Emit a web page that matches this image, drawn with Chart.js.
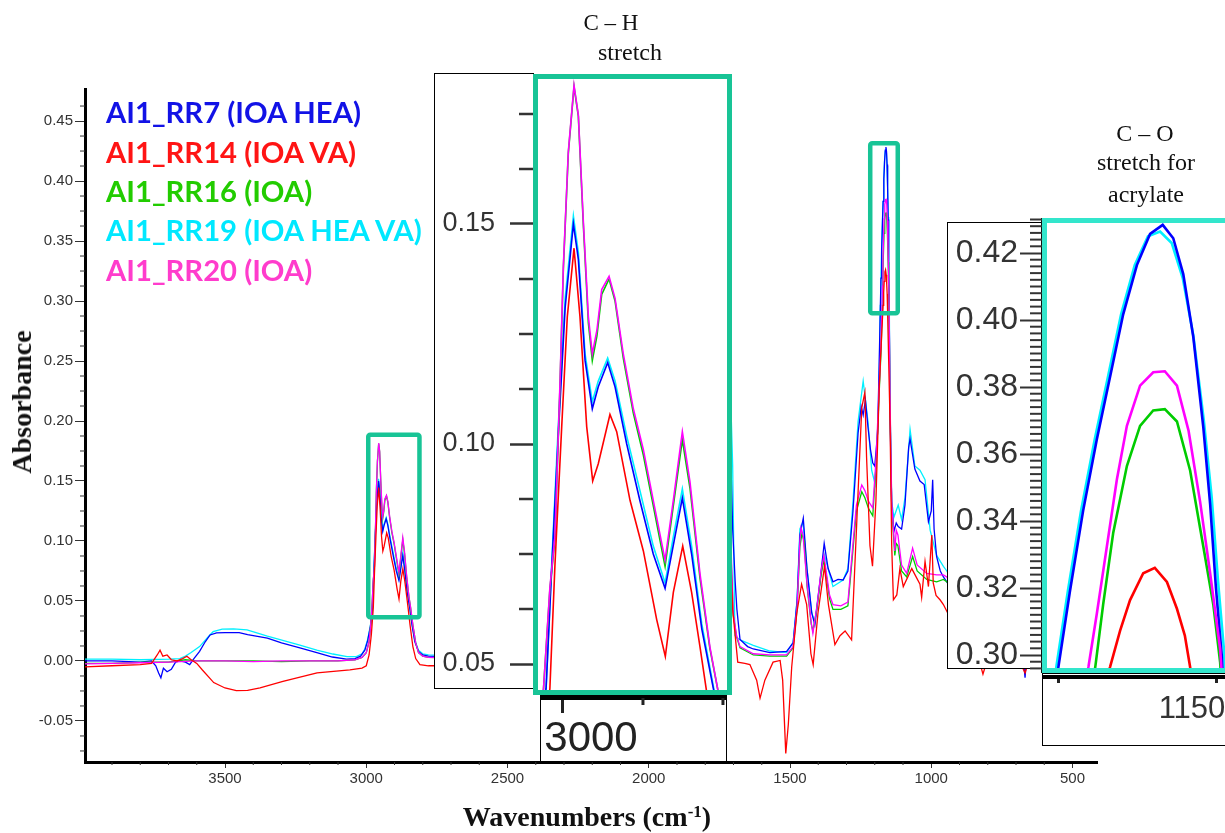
<!DOCTYPE html>
<html><head><meta charset="utf-8">
<script src="https://cdn.jsdelivr.net/npm/chart.js@4.4.1/dist/chart.umd.min.js"></script>
<style>
html,body{margin:0;padding:0;background:#fff;}
body{width:1225px;height:833px;position:relative;overflow:hidden;}
.abs{position:absolute;box-sizing:border-box;}
canvas{position:absolute;}
.leg{position:absolute;white-space:nowrap;font-family:Lato,"Open Sans",sans-serif;font-weight:700;line-height:1;transform:translateY(-50%);}
.note{position:absolute;font-family:"Liberation Serif","Times New Roman",serif;white-space:nowrap;line-height:1;transform:translate(-50%,-50%);color:#111;}
</style></head><body>
<canvas id="mainChart" width="1225" height="833" style="left:0;top:0"></canvas>
<div id="legend"></div>
<div class="note" id="ytitle" style="left:22px;top:402px;font-weight:700;font-size:28px;transform:translate(-50%,-50%) rotate(-90deg);">Absorbance</div>
<div class="note" id="xtitle" style="left:587px;top:817px;font-weight:700;font-size:28px;">Wavenumbers (cm<sup style="font-size:17px;vertical-align:9px;line-height:0">-1</sup>)</div>

<div class="note" style="left:611px;top:22px;font-size:23px;">C – H</div>
<div class="note" style="left:630px;top:52px;font-size:24px;">stretch</div>
<div class="note" style="left:1145px;top:133px;font-size:24px;">C – O</div>
<div class="note" style="left:1146px;top:162px;font-size:24px;">stretch for</div>
<div class="note" style="left:1146px;top:194px;font-size:24px;">acrylate</div>

<!-- C-H inset -->
<div class="abs" style="left:434px;top:73px;width:100px;height:616px;border:1px solid #000;background:#fff"></div>
<div class="abs" style="left:533px;top:74px;width:199px;height:621px;background:#fff"></div>
<canvas id="chInset" width="298" height="622" style="left:434px;top:73px"></canvas>
<div class="abs" style="left:533px;top:74px;width:199px;height:621px;border:5px solid #18c496"></div>
<div class="abs" style="left:540px;top:695px;width:187px;height:67px;border:1px solid #000;background:#fff"></div>
<canvas id="chAxis" width="185" height="66" style="left:541px;top:695px"></canvas>

<!-- C-O inset -->
<div class="abs" style="left:947px;top:222px;width:96px;height:447px;border:1px solid #000;background:#fff"></div>
<div class="abs" style="left:1042px;top:218px;width:190px;height:455px;background:#fff"></div>
<canvas id="coInset" width="278" height="455" style="left:947px;top:218px"></canvas>
<div class="abs" style="left:1042px;top:218px;width:190px;height:455px;border:5px solid #33e6cc"></div>
<div class="abs" style="left:1042px;top:673px;width:190px;height:73px;border:1px solid #000;background:#fff"></div>
<canvas id="coAxis" width="183" height="73" style="left:1042px;top:673px"></canvas>

<script>
// ---------------- data (wavenumber cm-1, absorbance) ----------------
const rr7 = [[3996,0.000],[3900,0.000],[3800,-0.001],[3760,0.000],[3745,-0.004],[3735,-0.010],[3727,-0.014],[3718,-0.006],[3705,-0.009],[3690,-0.007],[3675,-0.001],[3660,0.000],[3640,-0.001],[3625,-0.003],[3610,0.002],[3590,0.008],[3570,0.016],[3553,0.0217],[3530,0.0235],[3500,0.0236],[3450,0.0236],[3420,0.022],[3350,0.019],[3300,0.015],[3235,0.011],[3175,0.007],[3120,0.0033],[3070,0.0015],[3040,0.002],[3020,0.004],[3005,0.009],[2995,0.017],[2985,0.029],
[2978,0.0445],[2973.6,0.0715],[2968.4,0.102],[2963,0.131],[2956.5,0.150],[2952.6,0.142],[2947.3,0.119],[2941.6,0.108],[2936.9,0.113],[2929.5,0.1185],[2923.7,0.113],[2914.5,0.100],[2904,0.087],[2893.6,0.075],[2884.3,0.0672],[2877.8,0.077],[2870.7,0.0877],[2863.4,0.075],[2855.4,0.058],[2846,0.044],[2838,0.030],[2828,0.016],[2815,0.008],[2800,0.005],[2780,0.004],
[2600,0.003],[2400,0.003],[2200,0.003],[2000,0.004],[1850,0.006],[1780,0.014],[1760,0.05],[1745,0.20],[1730,0.33],[1715,0.22],
[1703,0.110],[1694,0.066],[1688,0.043],[1677,0.018],[1650,0.012],[1630,0.010],[1571,0.007],[1512,0.008],[1489,0.015],[1475,0.050],[1465,0.105],[1453,0.119],[1440,0.077],[1423,0.040],[1412,0.030],[1394,0.066],[1379,0.098],[1365,0.077],[1348,0.066],[1330,0.068],[1312,0.0675],[1295,0.075],[1277,0.125],[1259,0.190],[1248,0.212],[1241,0.205],[1233,0.2175],[1224,0.195],[1215,0.176],[1207,0.165],[1200,0.1625],[1190,0.19],[1185,0.24],
[1180.1,0.2964],[1177.9,0.3191],[1175.4,0.3431],[1172.8,0.3644],[1170.3,0.3830],[1167.8,0.4017],[1165.2,0.4164],[1162.7,0.4257],[1160.3,0.4284],[1158.3,0.4244],[1156.4,0.4137],[1154.5,0.3950],[1152.6,0.368],[1151.3,0.345],[1150.2,0.320],[1149.1,0.300],
[1146,0.207],[1140,0.130],[1132,0.108],[1124,0.115],[1117,0.112],[1105,0.110],[1093,0.130],[1080,0.178],[1075,0.185],[1058,0.160],[1040,0.150],[1025,0.147],[1010,0.116],[1000,0.125],[995,0.151],[990,0.110],[981,0.087],[968,0.075],[957,0.070],[945,0.066],[900,0.050],[850,0.035],[800,0.022],[750,0.012],[700,0.006],[680,0.004],[672,-0.004],[668,-0.014],[664,-0.002],[640,0.003],[560,0.002],[413,0.001]];

const rr14 = [[3996,-0.005],[3900,-0.004],[3800,-0.003],[3760,-0.002],[3740,0.005],[3730,0.009],[3720,0.004],[3705,0.005],[3690,0.001],[3670,0.000],[3650,0.002],[3635,0.004],[3620,0.001],[3600,-0.002],[3580,-0.0075],[3540,-0.018],[3500,-0.0225],[3460,-0.0247],[3420,-0.0245],[3376,-0.0225],[3295,-0.017],[3174,-0.010],[3058,-0.0075],[3015,-0.006],[3000,-0.004],[2990,0.005],[2982,0.022],
[2975,0.0445],[2971,0.0726],[2965.7,0.1039],[2961.3,0.1289],[2956,0.1445],[2951.3,0.1289],[2946,0.1039],[2941.3,0.0916],[2936.9,0.0955],[2927.7,0.1067],[2922.4,0.1028],[2911.9,0.0872],[2901.4,0.0757],[2890.9,0.0601],[2884.1,0.0517],[2877.8,0.0663],[2870.4,0.0768],[2863.4,0.0663],[2856.8,0.0539],[2852,0.0445],[2845,0.030],[2835,0.012],[2825,0.002],[2810,-0.003],[2780,-0.004],
[2600,-0.004],[2400,-0.005],[2200,-0.005],[2000,-0.004],[1850,-0.003],[1780,0.005],[1760,0.03],[1745,0.12],[1730,0.22],[1715,0.12],
[1703,0.043],[1685,-0.001],[1660,-0.002],[1642,-0.003],[1618,-0.016],[1606,-0.031],[1589,-0.016],[1560,-0.001],[1535,0.0004],[1526,-0.016],[1515,-0.077],[1506,-0.053],[1494,-0.005],[1476,0.040],[1459,0.064],[1441,0.047],[1426,0.006],[1418,-0.003],[1401,0.040],[1378,0.0788],[1364,0.047],[1341,0.0137],[1323,0.021],[1305,0.025],[1282,0.0175],[1264,0.114],[1246,0.211],[1235,0.224],[1229,0.170],[1217,0.096],[1208,0.079],[1196,0.133],[1184,0.229],[1175,0.275],
[1170.3,0.2964],[1168.4,0.3072],[1166.5,0.3164],[1164.0,0.3244],[1161.8,0.3260],[1159.5,0.3218],[1157.6,0.3138],[1156.1,0.3058],[1155.1,0.2964],
[1146,0.200],[1140,0.096],[1134,0.051],[1122,0.055],[1111,0.077],[1099,0.062],[1069,0.077],[1040,0.064],[1034,0.053],[1022,0.083],[1010,0.062],[998,0.105],[993,0.065],[983,0.0546],[969,0.051],[957,0.047],[944,0.041],[900,0.020],[850,0.004],[825,-0.004],[817,-0.011],[808,-0.004],[750,-0.004],[680,-0.004],[668,-0.010],[660,-0.004],[560,-0.005],[413,-0.005]];

const rr16 = [[3996,-0.002],[3900,-0.002],[3780,-0.001],[3700,-0.001],[3640,0.001],[3600,0.000],[3500,0.000],[3400,0.000],[3300,-0.0005],[3200,0.000],[3100,0.000],[3040,0.001],[3015,0.003],[3000,0.007],[2990,0.016],[2985,0.028],
[2980,0.0445],[2975,0.0670],[2971,0.0785],[2967,0.1135],[2964.4,0.1398],[2960.5,0.1660],[2956,0.1812],[2952.6,0.1745],[2948.7,0.1500],[2944.7,0.1275],[2941.6,0.1190],[2938,0.1245],[2934.2,0.1340],[2928.4,0.1375],[2923.7,0.1325],[2917.2,0.1195],[2909.3,0.1070],[2901.4,0.0975],[2893.6,0.0860],[2884.3,0.0722],[2877.8,0.0860],[2870.7,0.1010],[2864.7,0.0900],[2856.8,0.0695],[2849,0.0535],[2843,0.0445],[2835,0.030],[2825,0.015],[2815,0.007],[2800,0.004],[2780,0.003],
[2600,0.002],[2400,0.001],[2200,0.001],[2000,0.002],[1850,0.004],[1780,0.011],[1760,0.035],[1745,0.14],[1730,0.25],[1715,0.13],
[1701,0.038],[1689,0.020],[1677,0.011],[1630,0.005],[1571,0.004],[1512,0.004],[1489,0.011],[1475,0.043],[1465,0.095],[1458,0.106],[1450,0.100],[1440,0.063],[1425,0.031],[1419,0.025],[1405,0.043],[1390,0.072],[1380,0.084],[1372,0.072],[1360,0.052],[1348,0.043],[1320,0.043],[1295,0.046],[1280,0.085],[1265,0.125],[1246,0.141],[1235,0.136],[1222,0.127],[1207,0.121],[1195,0.165],[1185,0.220],[1177,0.262],
[1173.1,0.2964],[1171.6,0.3151],[1169.7,0.3364],[1167.1,0.3564],[1164.6,0.3684],[1162.1,0.3730],[1159.9,0.3734],[1157.6,0.3697],[1155.1,0.3551],[1152.6,0.3324],[1150.7,0.3151],[1149.4,0.2978],
[1146,0.215],[1140,0.128],[1129,0.088],[1124,0.098],[1118,0.096],[1105,0.075],[1087,0.070],[1066,0.087],[1050,0.075],[1016,0.068],[981,0.066],[957,0.068],[945,0.066],[900,0.048],[850,0.033],[800,0.021],[750,0.011],[700,0.005],[668,0.001],[640,0.002],[560,0.001],[413,0.000]];

const rr19 = [[3996,0.0015],[3900,0.0015],[3800,0.001],[3700,0.0015],[3660,0.002],[3640,0.004],[3620,0.007],[3590,0.012],[3560,0.020],[3542,0.0244],[3510,0.0265],[3470,0.0267],[3422,0.026],[3350,0.0208],[3235,0.0133],[3175,0.009],[3118,0.0058],[3068,0.0036],[3035,0.0036],[3015,0.006],[3005,0.010],[2995,0.018],[2985,0.030],
[2978,0.0445],[2973.6,0.0726],[2968.4,0.104],[2963,0.133],[2956.5,0.1518],[2952.6,0.1435],[2947.3,0.1205],[2941.6,0.1096],[2936.9,0.1143],[2929.5,0.1195],[2923.7,0.1143],[2914.5,0.1018],[2904,0.0893],[2893.6,0.0768],[2884.3,0.0684],[2877.8,0.0789],[2870.7,0.0898],[2863.4,0.0768],[2855.4,0.0591],[2846,0.0445],[2838,0.031],[2828,0.017],[2815,0.009],[2800,0.006],[2780,0.005],
[2600,0.004],[2400,0.004],[2200,0.004],[2000,0.005],[1850,0.008],[1780,0.02],[1760,0.06],[1745,0.22],[1730,0.36],[1715,0.26],
[1703,0.163],[1695,0.021],[1677,0.0175],[1630,0.013],[1571,0.0083],[1512,0.007],[1489,0.0155],[1475,0.051],[1465,0.110],[1454,0.116],[1440,0.077],[1423,0.040],[1412,0.0325],[1394,0.066],[1380,0.090],[1365,0.077],[1348,0.062],[1312,0.0675],[1295,0.077],[1277,0.1327],[1259,0.1997],[1241,0.2333],[1224,0.1997],[1211,0.159],[1199,0.1475],[1187,0.207],[1183,0.255],
[1180.5,0.2964],[1178.3,0.3191],[1175.8,0.3431],[1173.2,0.3644],[1170.7,0.383],[1168.2,0.4017],[1165.6,0.4164],[1163.1,0.4250],[1160.8,0.4264],[1158.6,0.4230],[1156.5,0.4125],[1154.5,0.3955],[1152.5,0.370],[1151.0,0.347],[1149.8,0.322],[1148.7,0.302],
[1146,0.215],[1140,0.1327],[1132,0.120],[1117,0.130],[1105,0.118],[1093,0.136],[1075,0.193],[1058,0.1625],[1040,0.159],[1022,0.151],[1004,0.109],[981,0.088],[957,0.0788],[945,0.075],[900,0.055],[850,0.040],[800,0.025],[750,0.015],[700,0.009],[672,0.002],[668,-0.006],[664,0.003],[640,0.005],[560,0.003],[413,0.002]];

const rr20 = [[3996,-0.0025],[3900,-0.002],[3800,-0.0015],[3700,-0.001],[3600,0.000],[3500,0.000],[3400,-0.0005],[3300,0.000],[3200,0.000],[3100,0.000],[3040,0.001],[3015,0.003],[3000,0.007],[2990,0.016],[2985,0.028],
[2980,0.0445],[2975,0.0674],[2971,0.0791],[2967,0.1143],[2964.4,0.1404],[2960.5,0.1664],[2956,0.1815],[2952.6,0.1748],[2948.7,0.1508],[2944.7,0.1289],[2941.6,0.1205],[2938,0.1258],[2934.2,0.1351],[2928.4,0.1381],[2923.7,0.1331],[2917.2,0.1205],[2909.3,0.108],[2901.4,0.0987],[2893.6,0.0872],[2884.3,0.0736],[2877.8,0.0872],[2870.7,0.1028],[2864.7,0.0914],[2856.8,0.0705],[2849,0.0539],[2843,0.0445],[2835,0.030],[2825,0.015],[2815,0.007],[2800,0.004],[2780,0.003],
[2600,0.002],[2400,0.001],[2200,0.001],[2000,0.002],[1850,0.004],[1780,0.012],[1760,0.04],[1745,0.15],[1730,0.27],[1715,0.14],
[1701,0.040],[1689,0.021],[1677,0.012],[1630,0.006],[1571,0.005],[1512,0.005],[1489,0.012],[1475,0.045],[1465,0.100],[1461,0.111],[1454,0.105],[1440,0.065],[1425,0.032],[1419,0.023],[1405,0.045],[1390,0.075],[1380,0.088],[1372,0.075],[1360,0.055],[1348,0.047],[1320,0.046],[1295,0.049],[1280,0.090],[1265,0.130],[1246,0.1467],[1235,0.142],[1222,0.133],[1207,0.1275],[1195,0.170],[1185,0.225],[1178,0.265],
[1174.4,0.2964],[1172.8,0.3124],[1170.9,0.3324],[1169.0,0.3524],[1167.1,0.3684],[1164.6,0.3804],[1162.1,0.3844],[1159.9,0.3847],[1157.6,0.3804],[1155.4,0.3670],[1153.2,0.3457],[1151.3,0.3244],[1149.4,0.3018],
[1146,0.22],[1140,0.133],[1129,0.0917],[1124,0.109],[1118,0.105],[1105,0.080],[1087,0.073],[1066,0.094],[1050,0.080],[1016,0.073],[981,0.0717],[957,0.0717],[945,0.070],[900,0.050],[850,0.035],[800,0.022],[750,0.012],[700,0.006],[668,0.002],[640,0.003],[560,0.002],[413,0.001]];

const seriesNames = ['AI1_RR7 (IOA HEA)', 'AI1_RR14 (IOA VA)', 'AI1_RR16 (IOA)', 'AI1_RR19 (IOA HEA VA)', 'AI1_RR20 (IOA)'];
const seriesData = [rr7, rr14, rr16, rr19, rr20];

// tick labels
const mainXTicks = [3500, 3000, 2500, 2000, 1500, 1000, 500];
const mainYTicks = [-0.05, 0.00, 0.05, 0.10, 0.15, 0.20, 0.25, 0.30, 0.35, 0.40, 0.45];
const chYTicks = [0.05, 0.10, 0.15];
const coYTicks = [0.30, 0.32, 0.34, 0.36, 0.38, 0.40, 0.42];
const chXTicks = [3000];
const coXTicks = [1180, 1150];
const coXLabels = ['', '1150'];

// ---------------- styles ----------------
const lineColors = ['#0000ff', '#ff0000', '#00cc00', '#00f0ff', '#ff00ff'];
const legendColors = ['#1212e6', '#ff1414', '#22cc00', '#00e8ff', '#ff3ccc'];
const drawOrder = [1, 4, 2, 0, 3];  // first = top-most
const boxGreen = '#18c496';
const chRegion = { x0: 3000.9, x1: 2803.7, y0: 0.1904, y1: 0.0346 };
const coRegion = { x0: 1224, x1: 1110.6, y0: 0.4333, y1: 0.2879 };

Chart.defaults.font.family = '"Liberation Sans", Arial, sans-serif';
Chart.defaults.color = '#333';

const toXY = a => a.map(p => ({ x: p[0], y: p[1] }));
function makeDatasets(bw) {
  return drawOrder.map(i => ({
    label: seriesNames[i], data: toXY(seriesData[i]), borderColor: lineColors[i],
    borderWidth: bw, pointRadius: 0, fill: false, tension: 0, spanGaps: true
  }));
}
function range(a, b, step, skip) {
  const out = [];
  const n = Math.round((b - a) / step);
  for (let i = 0; i <= n; i++) {
    const v = +(a + i * step).toFixed(6);
    if (!skip || !skip(v)) out.push(v);
  }
  return out;
}
const isMult = (v, m) => Math.abs(v / m - Math.round(v / m)) < 1e-6;

function minorPlugin(list) {
  return {
    id: 'minorTicks',
    afterDraw(chart) {
      const ctx = chart.ctx;
      list.forEach(m => {
        const s = chart.scales[m.axis];
        ctx.save(); ctx.strokeStyle = m.color; ctx.lineWidth = m.width;
        m.values.forEach(v => {
          let p = s.getPixelForValue(v);
          ctx.beginPath();
          if (s.isHorizontal()) { ctx.moveTo(p, s.top); ctx.lineTo(p, s.top + m.len); }
          else { ctx.moveTo(s.right - m.len, p); ctx.lineTo(s.right, p); }
          ctx.stroke();
        });
        ctx.restore();
      });
    }
  };
}
const regionPlugin = {
  id: 'regions',
  afterDatasetsDraw(chart) {
    const { ctx, scales: { x, y } } = chart;
    const lw = 4.5;
    [chRegion, coRegion].forEach(r => {
      const px0 = x.getPixelForValue(r.x0), px1 = x.getPixelForValue(r.x1);
      const py0 = y.getPixelForValue(r.y0), py1 = y.getPixelForValue(r.y1);
      const l = Math.min(px0, px1) + lw / 2, t = Math.min(py0, py1) + lw / 2;
      const w = Math.abs(px1 - px0) - lw, h = Math.abs(py1 - py0) - lw;
      ctx.save(); ctx.strokeStyle = boxGreen; ctx.lineWidth = lw; ctx.lineJoin = 'round';
      ctx.beginPath(); ctx.roundRect ? ctx.roundRect(l, t, w, h, 2) : ctx.rect(l, t, w, h); ctx.stroke();
      ctx.restore();
    });
  }
};
const baseOpts = {
  responsive: false, animation: false, events: [],
  plugins: { legend: { display: false }, tooltip: { enabled: false } }
};
const fixTicks = list => (s => { s.ticks = list.map(v => ({ value: v })); });
const fixWidth = w => (s => { s.width = w; s.paddingTop = 0; s.paddingBottom = 0; });

// ---------------- main chart ----------------
new Chart(document.getElementById('mainChart'), {
  type: 'line',
  data: { datasets: makeDatasets(1.3) },
  options: Object.assign({}, baseOpts, {
    layout: { padding: { top: 89, right: 128, bottom: 0, left: 0 } },
    scales: {
      x: {
        type: 'linear', reverse: true, min: 413.3, max: 3995.6,
        afterBuildTicks: fixTicks(mainXTicks),
        ticks: { autoSkip: false, maxRotation: 0, minRotation: 0, padding: 2, font: { size: 15 }, color: '#333', callback: v => String(v) },
        grid: { drawOnChartArea: false, tickLength: 6, tickColor: '#333', tickWidth: 1 },
        border: { display: true, color: '#000', width: 3 },
        afterFit: s => { s.height = 71; }
      },
      y: {
        type: 'linear', min: -0.0842, max: 0.4767,
        afterBuildTicks: fixTicks(mainYTicks),
        ticks: { autoSkip: false, padding: 2, font: { size: 15 }, color: '#333', callback: v => v.toFixed(2) },
        grid: { drawOnChartArea: false, tickLength: 10, tickColor: '#333', tickWidth: 1 },
        border: { display: true, color: '#000', width: 3 },
        afterFit: fixWidth(85)
      }
    }
  }),
  plugins: [minorPlugin([
    { axis: 'x', values: range(500, 3900, 100, v => isMult(v, 500)), len: 3, width: 1, color: '#333' },
    { axis: 'y', values: range(-0.075, 0.4625, 0.0125, v => isMult(v, 0.05)), len: 5, width: 1, color: '#333' }
  ]), regionPlugin]
});

// ---------------- C-H inset ----------------
new Chart(document.getElementById('chInset'), {
  type: 'line',
  data: { datasets: makeDatasets(1.6) },
  options: Object.assign({}, baseOpts, {
    layout: { padding: { top: 1, right: 0, bottom: 2, left: 0 } },
    scales: {
      x: { type: 'linear', reverse: true, min: 2831.6, max: 2988.3, display: false },
      y: {
        type: 'linear', min: 0.04341, max: 0.18409,
        afterBuildTicks: fixTicks(chYTicks),
        ticks: { autoSkip: false, padding: 15, font: { size: 27 }, color: '#333', callback: v => v.toFixed(2) },
        grid: { drawOnChartArea: false, tickLength: 23, tickColor: '#333', tickWidth: 2.5 },
        border: { display: false },
        afterFit: fixWidth(99)
      }
    }
  }),
  plugins: [minorPlugin([
    { axis: 'y', values: range(0.0625, 0.175, 0.0125, v => isMult(v, 0.05)), len: 14, width: 2.5, color: '#333' }
  ])]
});

new Chart(document.getElementById('chAxis'), {
  type: 'line',
  data: { datasets: [] },
  options: Object.assign({}, baseOpts, {
    layout: { padding: 0 },
    scales: {
      x: {
        type: 'linear', reverse: true, min: 2898.1, max: 3013.75,
        afterBuildTicks: fixTicks(chXTicks),
        ticks: { autoSkip: false, maxRotation: 0, minRotation: 0, padding: 1, labelOffset: 28, font: { size: 42 }, color: '#222', callback: v => String(v) },
        grid: { drawOnChartArea: false, tickLength: 15, tickColor: '#222', tickWidth: 3 },
        border: { display: true, color: '#000', width: 4 },
        afterFit: s => { s.height = 63; s.paddingLeft = 0; s.paddingRight = 0; }
      },
      y: { display: false, min: 0, max: 1 }
    }
  }),
  plugins: [minorPlugin([
    { axis: 'x', values: [2950, 2900], len: 7, width: 3, color: '#222' }
  ])]
});

// ---------------- C-O inset ----------------
new Chart(document.getElementById('coInset'), {
  type: 'line',
  data: { datasets: makeDatasets(2.6) },
  options: Object.assign({}, baseOpts, {
    layout: { padding: 0 },
    scales: {
      x: { type: 'linear', reverse: true, min: 1148.48, max: 1183.21, display: false },
      y: {
        type: 'linear', min: 0.29463, max: 0.43045,
        afterBuildTicks: fixTicks(coYTicks),
        ticks: { autoSkip: false, padding: 2, font: { size: 32 }, color: '#333', callback: v => v.toFixed(2) },
        grid: { drawOnChartArea: false, tickLength: 22, tickColor: '#333', tickWidth: 2 },
        border: { display: true, color: '#111', width: 3 },
        afterFit: fixWidth(95)
      }
    }
  }),
  plugins: [minorPlugin([
    { axis: 'y', values: range(0.296, 0.430, 0.002, v => isMult(v, 0.02)), len: 12, width: 2, color: '#333' }
  ])]
});

new Chart(document.getElementById('coAxis'), {
  type: 'line',
  data: { datasets: [] },
  options: Object.assign({}, baseOpts, {
    layout: { padding: 0 },
    scales: {
      x: {
        type: 'linear', reverse: true, min: 1148.48, max: 1183.21,
        afterBuildTicks: fixTicks(coXTicks),
        ticks: { autoSkip: false, maxRotation: 0, minRotation: 0, padding: 8, labelOffset: -25, font: { size: 31 }, color: '#333',
                 callback: (v, i) => coXLabels[i] },
        grid: { drawOnChartArea: false, tickLength: 6, tickColor: '#222', tickWidth: 3 },
        border: { display: true, color: '#000', width: 4 },
        afterFit: s => { s.height = 69; s.paddingLeft = 0; s.paddingRight = 0; }
      },
      y: { display: false, min: 0, max: 1 }
    }
  })
});

// ---------------- legend (text only, coloured) ----------------
(function () {
  const ctx = document.createElement('canvas').getContext('2d');
  ctx.font = '700 100px Lato';
  const size = 100 * 319 / ctx.measureText(seriesNames[3]).width;
  const centers = [111.7, 151.5, 190.5, 230, 270];
  const box = document.getElementById('legend');
  seriesNames.forEach((n, i) => {
    const d = document.createElement('div');
    d.className = 'leg';
    d.textContent = n;
    d.style.left = '106px';
    d.style.top = centers[i] + 'px';
    d.style.fontSize = size.toFixed(2) + 'px';
    d.style.color = legendColors[i];
    box.appendChild(d);
  });
})();
</script>
</body></html>
